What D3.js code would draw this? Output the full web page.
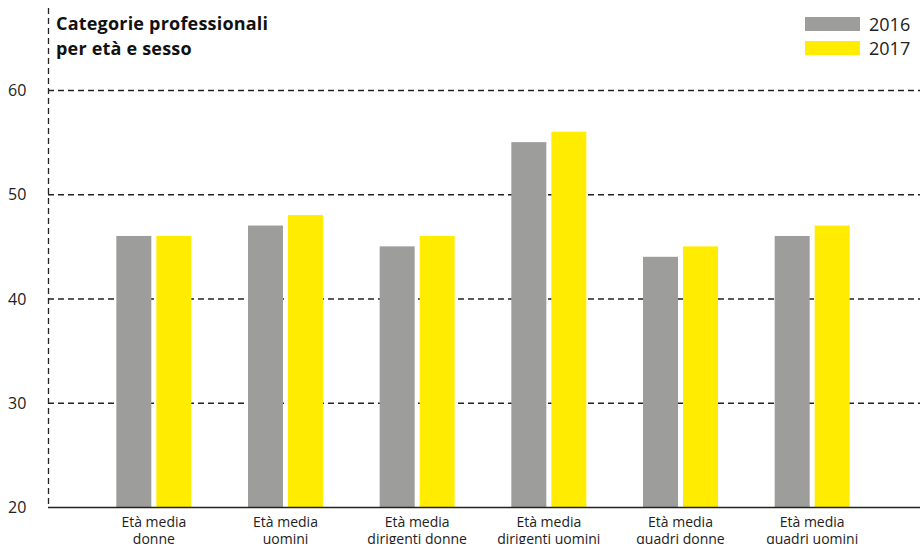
<!DOCTYPE html>
<html>
<head>
<meta charset="utf-8">
<script src="https://cdn.jsdelivr.net/npm/d3@7"></script>
<style>
  body { margin: 0; background: #fff; }
  svg { display: block; font-family: "Open Sans", "Noto Sans", sans-serif; }
</style>
</head>
<body>
<svg id="chart" width="920" height="544"></svg>
<script>
const width = 920;
const height = 544;

const categories = [
  ["Età media", "donne"],
  ["Età media", "uomini"],
  ["Età media", "dirigenti donne"],
  ["Età media", "dirigenti uomini"],
  ["Età media", "quadri donne"],
  ["Età media", "quadri uomini"]
];
const years = ["2016", "2017"];
const values2016 = [46, 47, 45, 55, 44, 46];
const values2017 = [46, 48, 46, 56, 45, 47];
const yTicks = [20, 30, 40, 50, 60];
const colors = ["#9d9d9b", "#ffec00"];

const svg = d3.select("#chart");

const x = d3.scaleBand()
  .domain(d3.range(categories.length))
  .range([88, 878]);

const x1 = d3.scaleBand()
  .domain(years)
  .range([0, 75])
  .paddingInner(0.125);

const y = d3.scaleLinear()
  .domain([20, 60])
  .range([507, 90]);

const axisX = 48;

// dashed grid lines
svg.append("g")
  .selectAll("line")
  .data(yTicks.filter(d => d > 20))
  .join("line")
  .attr("x1", axisX)
  .attr("x2", width)
  .attr("y1", d => y(d) + 0.5)
  .attr("y2", d => y(d) + 0.5)
  .attr("stroke", "#222")
  .attr("stroke-width", 1.3)
  .attr("stroke-dasharray", "6,4");

// vertical dashed axis
svg.append("line")
  .attr("x1", axisX + 0.5)
  .attr("x2", axisX + 0.5)
  .attr("y1", 8)
  .attr("y2", y(20))
  .attr("stroke", "#222")
  .attr("stroke-width", 1.3)
  .attr("stroke-dasharray", "6,4");

// y labels
svg.append("g")
  .selectAll("text")
  .data(yTicks)
  .join("text")
  .attr("x", 8)
  .attr("y", d => y(d) + 6)
  .attr("font-size", 16)
  .attr("fill", "#222")
  .text(d => d);

// bars
const data = categories.map((c, i) => ({
  i,
  vals: [
    { year: "2016", v: values2016[i] },
    { year: "2017", v: values2017[i] }
  ]
}));

const groups = svg.append("g")
  .selectAll("g")
  .data(data)
  .join("g")
  .attr("transform", d => `translate(${x(d.i) + x.bandwidth() / 2 - 37.5},0)`);

groups.selectAll("rect")
  .data(d => d.vals)
  .join("rect")
  .attr("x", d => x1(d.year))
  .attr("width", x1.bandwidth())
  .attr("y", d => y(d.v))
  .attr("height", d => y(20) - y(d.v))
  .attr("fill", (d, j) => colors[j]);

// baseline
svg.append("line")
  .attr("x1", axisX)
  .attr("x2", width)
  .attr("y1", y(20) + 0.5)
  .attr("y2", y(20) + 0.5)
  .attr("stroke", "#222")
  .attr("stroke-width", 1.5);

// x labels
const xl = svg.append("g")
  .selectAll("text")
  .data(categories)
  .join("text")
  .attr("text-anchor", "middle")
  .attr("font-size", 14)
  .attr("fill", "#222")
  .attr("x", (d, i) => x(i) + x.bandwidth() / 2);

xl.selectAll("tspan")
  .data(d => d)
  .join("tspan")
  .attr("x", function() { return d3.select(this.parentNode).attr("x"); })
  .attr("y", (d, j) => 527 + j * 17)
  .text(d => d);

// title
const title = svg.append("text")
  .attr("font-size", 18)
  .attr("font-weight", "bold")
  .attr("letter-spacing", 0.2)
  .attr("fill", "#111");
title.append("tspan").attr("x", 56).attr("y", 30).text("Categorie professionali");
title.append("tspan").attr("x", 56).attr("y", 55).text("per età e sesso");

// legend
const legend = svg.append("g")
  .selectAll("g")
  .data(years)
  .join("g")
  .attr("transform", (d, i) => `translate(805,${17 + i * 24})`);

legend.append("rect")
  .attr("width", 55)
  .attr("height", 14)
  .attr("fill", (d, i) => colors[i]);

legend.append("text")
  .attr("x", 64)
  .attr("y", 14)
  .attr("font-size", 18)
  .attr("fill", "#222")
  .text(d => d);
</script>
</body>
</html>
